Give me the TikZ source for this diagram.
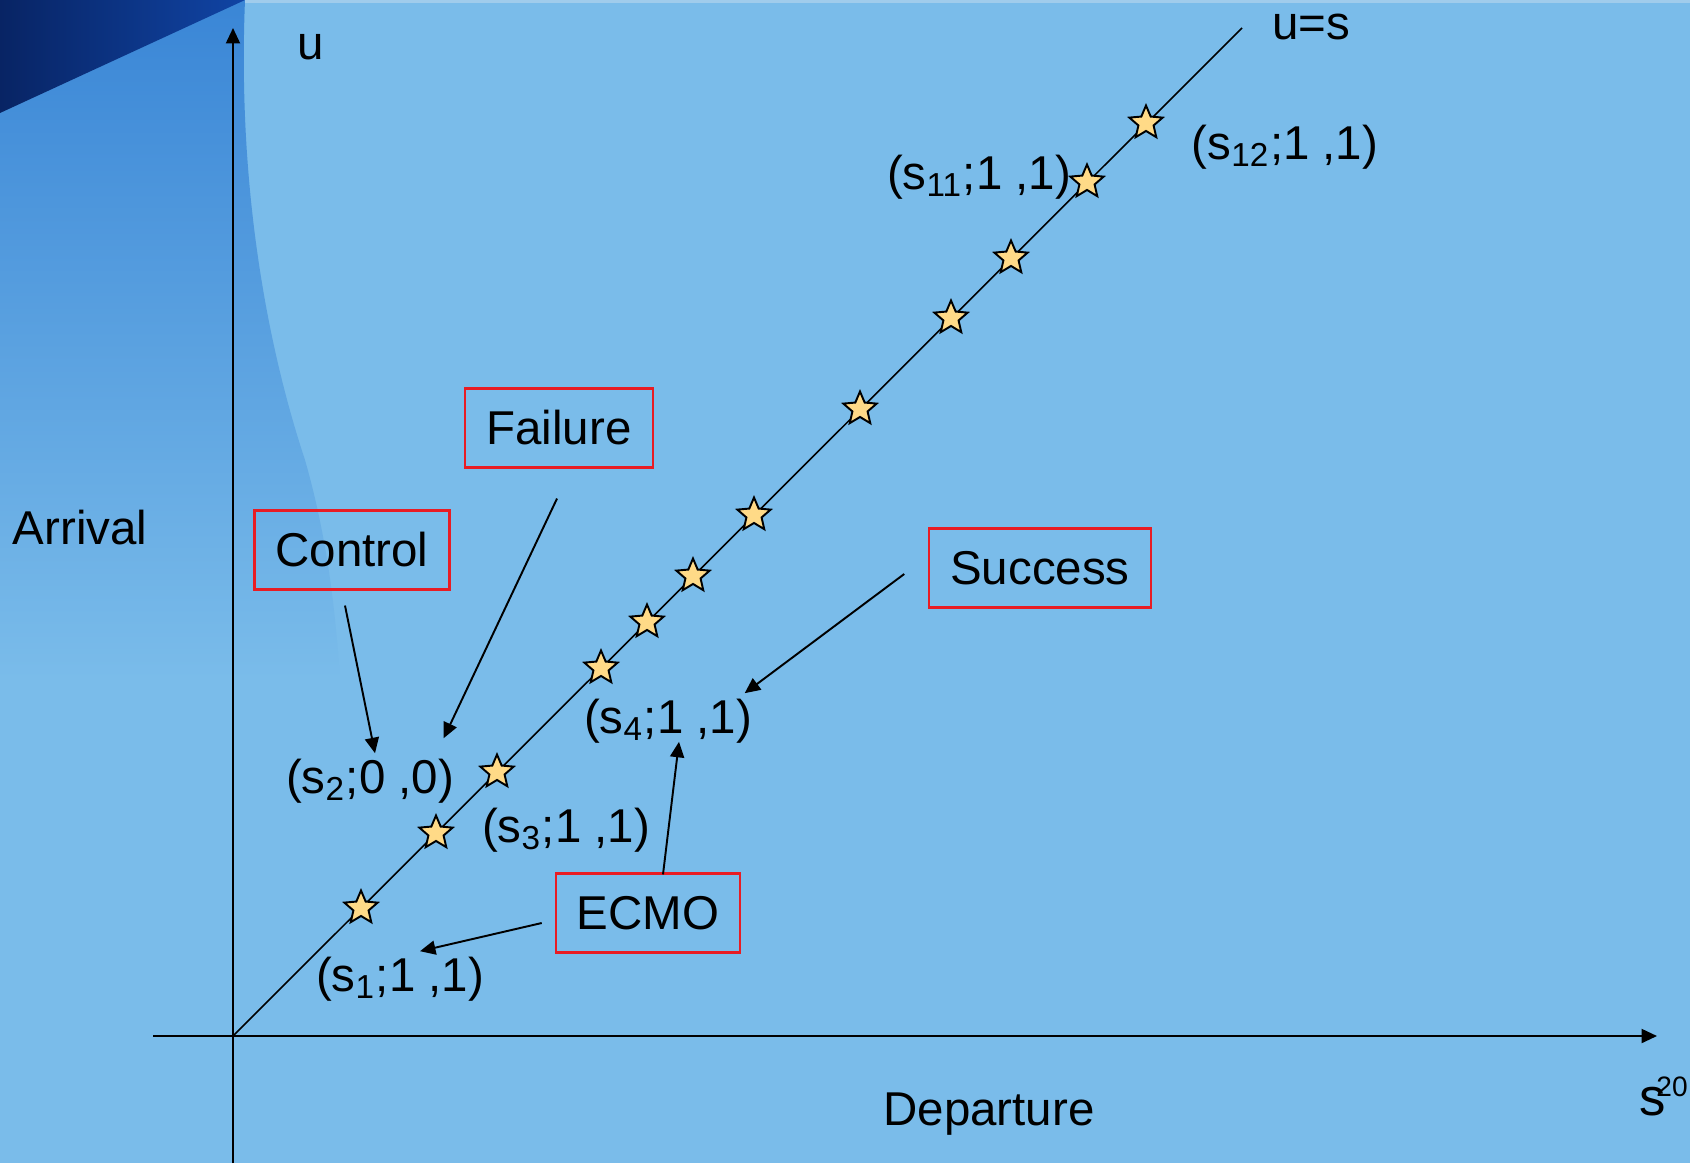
\documentclass[tikz,border=0pt]{standalone}
\usepackage{fontspec}
\setmainfont{Liberation Sans}
\usetikzlibrary{arrows.meta,shapes.geometric}
\definecolor{skyblue}{RGB}{122,188,234}
\definecolor{midblue}{RGB}{58,134,214}
\definecolor{navyblue}{RGB}{8,36,100}
\definecolor{navyblue2}{RGB}{16,68,164}
\definecolor{boxred}{RGB}{232,28,36}
\definecolor{starfill}{RGB}{255,218,135}
\definecolor{topband}{RGB}{160,204,236}

\begin{document}
\begin{tikzpicture}[x=0.01cm, y=-0.01cm,
		font=\fontsize{13.5}{16}\selectfont,
		tip/.style={-{Triangle[length=4.4pt,width=4pt]}},
		armbox/.style={draw=boxred, line width=0.6pt, minimum height=0.79cm, inner xsep=0.21cm, inner ysep=0pt},
		pt/.style={star, star points=5, star point ratio=2.2, minimum size=0.35cm, inner sep=0pt, draw=black, line width=0.55pt, fill=starfill},
		lab/.style={inner sep=0pt}]
		% background
		\useasboundingbox (0,0) rectangle (1690,1163);
		\fill[skyblue] (0,0) rectangle (1690,1163);
		\shade[top color=midblue, bottom color=skyblue] (0,0) -- (245,0) .. controls (238,170) and (262,330) .. (305,460) .. controls (325,530) and (335,600) .. (340,680) -- (0,680) -- cycle;
		\shade[left color=navyblue, right color=navyblue2] (0,0) -- (245,0) -- (0,113) -- cycle;
		\fill[topband] (245,0) rectangle (1690,3);
		% axes
		\coordinate (o) at (233,1036);
		\coordinate (uend) at (233,28);
		\coordinate (send) at (1657,1036);
		\coordinate (dend) at (1242,28);
		\draw[line width=0.55pt, tip] (233,1163) -- (uend);
		\draw[line width=0.55pt, tip] (153,1036) -- (send);
		\draw[line width=0.45pt] (o) -- (dend);
		\foreach \d [count=\i] in {128,203,264,368,414,460,521,627,718,778,854,913}
			\node[pt] (st\i) at (233+\d,1036-\d) {};
		% axis labels
		\node[lab] (ulab) at (311,47) {u};
		\node[lab] (diaglab) at (1311,27) {u=s};
		\node[lab] (arrival) at (80,528) {Arrival};
		\node[lab] (departure) at (989,1114) {Departure};
		\node[lab, font=\fontsize{15}{18}\selectfont] (slab) at (1653,1102) {s};
		\node[lab, font=\fontsize{8}{10}\selectfont] (pagenum) at (1672,1087) {20};
		% point labels
		\node[lab] (s1lab) at (400,979) {(s\textsubscript{1};1 ,1)};
		\node[lab] (s2lab) at (370,781) {(s\textsubscript{2};0 ,0)};
		\node[lab] (s3lab) at (566,830) {(s\textsubscript{3};1 ,1)};
		\node[lab] (s4lab) at (668,721) {(s\textsubscript{4};1 ,1)};
		\node[lab] (s11lab) at (979,177) {(s\textsubscript{11};1 ,1)};
		\node[lab] (s12lab) at (1285,147) {(s\textsubscript{12};1 ,1)};
		% boxes
		\node[armbox] (failure) at (559,428) {Failure};
		\node[armbox] (control) at (352,550) {Control};
		\node[armbox] (success) at (1040,568) {Success};
		\node[armbox] (ecmo) at (648,913) {ECMO};
		% arrows
		\draw[line width=0.55pt, tip] ([shift={(-7,15)}]control.south) -- ([shift={(5,-5)}]s2lab.north);
		\draw[line width=0.55pt, tip] ([shift={(-2,30)}]failure.south) -- ([shift={(-11,-20)}]s2lab.north east);
		\draw[line width=0.55pt, tip] ([shift={(-24,6)}]success.west) -- ([shift={(-8,-5)}]s4lab.north east);
		\draw[line width=0.55pt, tip] ([shift={(15,2)}]ecmo.north) -- ([shift={(11,-2)}]s4lab.south);
		\draw[line width=0.55pt, tip] ([shift={(-13,10)}]ecmo.west) -- ([shift={(20,-5)}]s1lab.north);
\end{tikzpicture}
\end{document}
